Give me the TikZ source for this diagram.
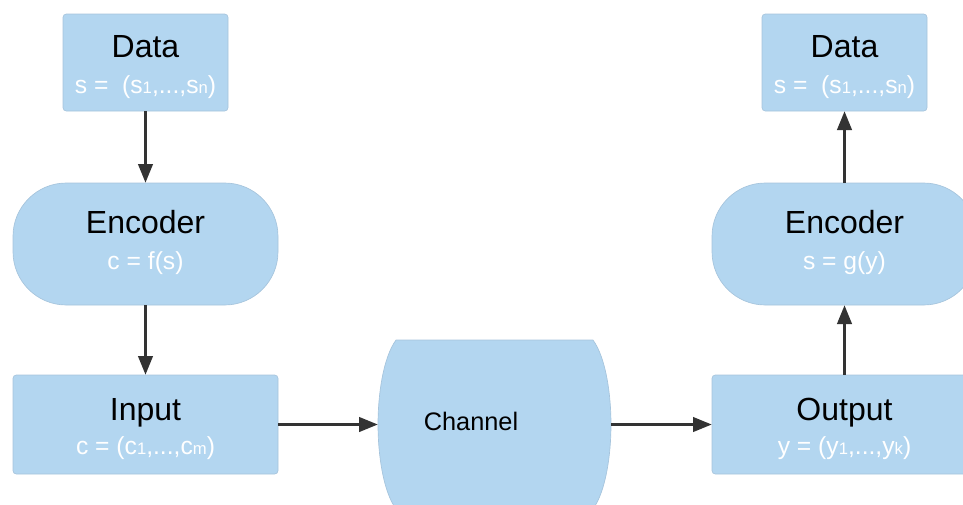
\documentclass[tikz,border=0pt]{standalone}
\usepackage{fontspec}
\setmainfont{Liberation Sans}
\usetikzlibrary{arrows.meta}
\definecolor{boxblue}{RGB}{179,214,240}
\definecolor{boxedge}{RGB}{166,196,220}
\definecolor{arrowgray}{RGB}{51,51,51}
\newcommand{\idx}[1]{{\fontsize{12.5}{12.5}\selectfont #1}}
\tikzset{
    box/.style={rectangle, rounded corners=2.5pt, fill=boxblue, draw=boxedge, line width=0.5pt, inner sep=0pt},
    databox/.style={box, minimum width=123.75pt, minimum height=72.75pt},
    codebox/.style={box, rounded corners=40pt, minimum width=198.75pt, minimum height=91.5pt},
    iobox/.style={box, minimum width=198.75pt, minimum height=74.25pt},
    title/.style={anchor=base, inner sep=0pt, font=\fontsize{24}{28}\selectfont},
    sub/.style={anchor=base, inner sep=0pt, text=white, font=\fontsize{18.5}{22}\selectfont},
    flow/.style={draw=arrowgray, line width=1.6pt, -{Triangle[length=14pt,width=11pt]}}
}
\begin{document}
\begin{tikzpicture}[x=0.75pt, y=-0.75pt]
    % 画布大小
    \useasboundingbox (0,0) rectangle (963,504);
    \clip (0,0) rectangle (963,504);

    % 左边三个框
    \node[databox] (D1) at (145.5,62.5) {};
    \node[codebox] (E1) at (145.5,244) {};
    \node[iobox] (I) at (145.5,424.5) {};

    % 信道
    \node[inner sep=0pt, minimum width=174.75pt, minimum height=126pt] (Ch) at (494.5,424.5) {};
    \draw[fill=boxblue, draw=boxedge, line width=0.5pt]
        (396,340) -- (593,340)
        .. controls (606,358) and (611,395) .. (611,424.5)
        .. controls (611,454) and (606,491) .. (593,509)
        -- (396,509)
        .. controls (383,491) and (378,454) .. (378,424.5)
        .. controls (378,395) and (383,358) .. (396,340) -- cycle;

    % 右边三个框
    \node[iobox] (O) at (844.5,424.5) {};
    \node[codebox] (E2) at (844.5,244) {};
    \node[databox] (D2) at (844.5,62.5) {};

    % 箭头
    \draw[flow] (D1) -- (E1);
    \draw[flow] (E1) -- (I);
    \draw[flow] (I) -- (Ch.west);
    \draw[flow] (Ch.east) -- (O);
    \draw[flow] (O) -- (E2);
    \draw[flow] (E2) -- (D2);

    % 标注文字
    \node[title] (D1t) at (145.5,57) {Data};
    \node[sub] (D1s) at (145.5,93) {s =\ \ (s\idx{1},...,s\idx{n})};
    \node[title] (E1t) at (145.5,233) {Encoder};
    \node[sub] (E1s) at (145.5,269) {c = f(s)};
    \node[title] (It) at (145.5,420) {Input};
    \node[sub] (Is) at (145.5,454) {c = (c\idx{1},...,c\idx{m})};
    \node[anchor=base, inner sep=0pt, font=\fontsize{19}{23}\selectfont] (Cht) at (471,430) {Channel};
    \node[title] (Ot) at (844.5,420) {Output};
    \node[sub] (Os) at (844.5,454) {y = (y\idx{1},...,y\idx{k})};
    \node[title] (E2t) at (844.5,233) {Encoder};
    \node[sub] (E2s) at (844.5,269) {s = g(y)};
    \node[title] (D2t) at (844.5,57) {Data};
    \node[sub] (D2s) at (844.5,93) {s =\ \ (s\idx{1},...,s\idx{n})};
\end{tikzpicture}
\end{document}
